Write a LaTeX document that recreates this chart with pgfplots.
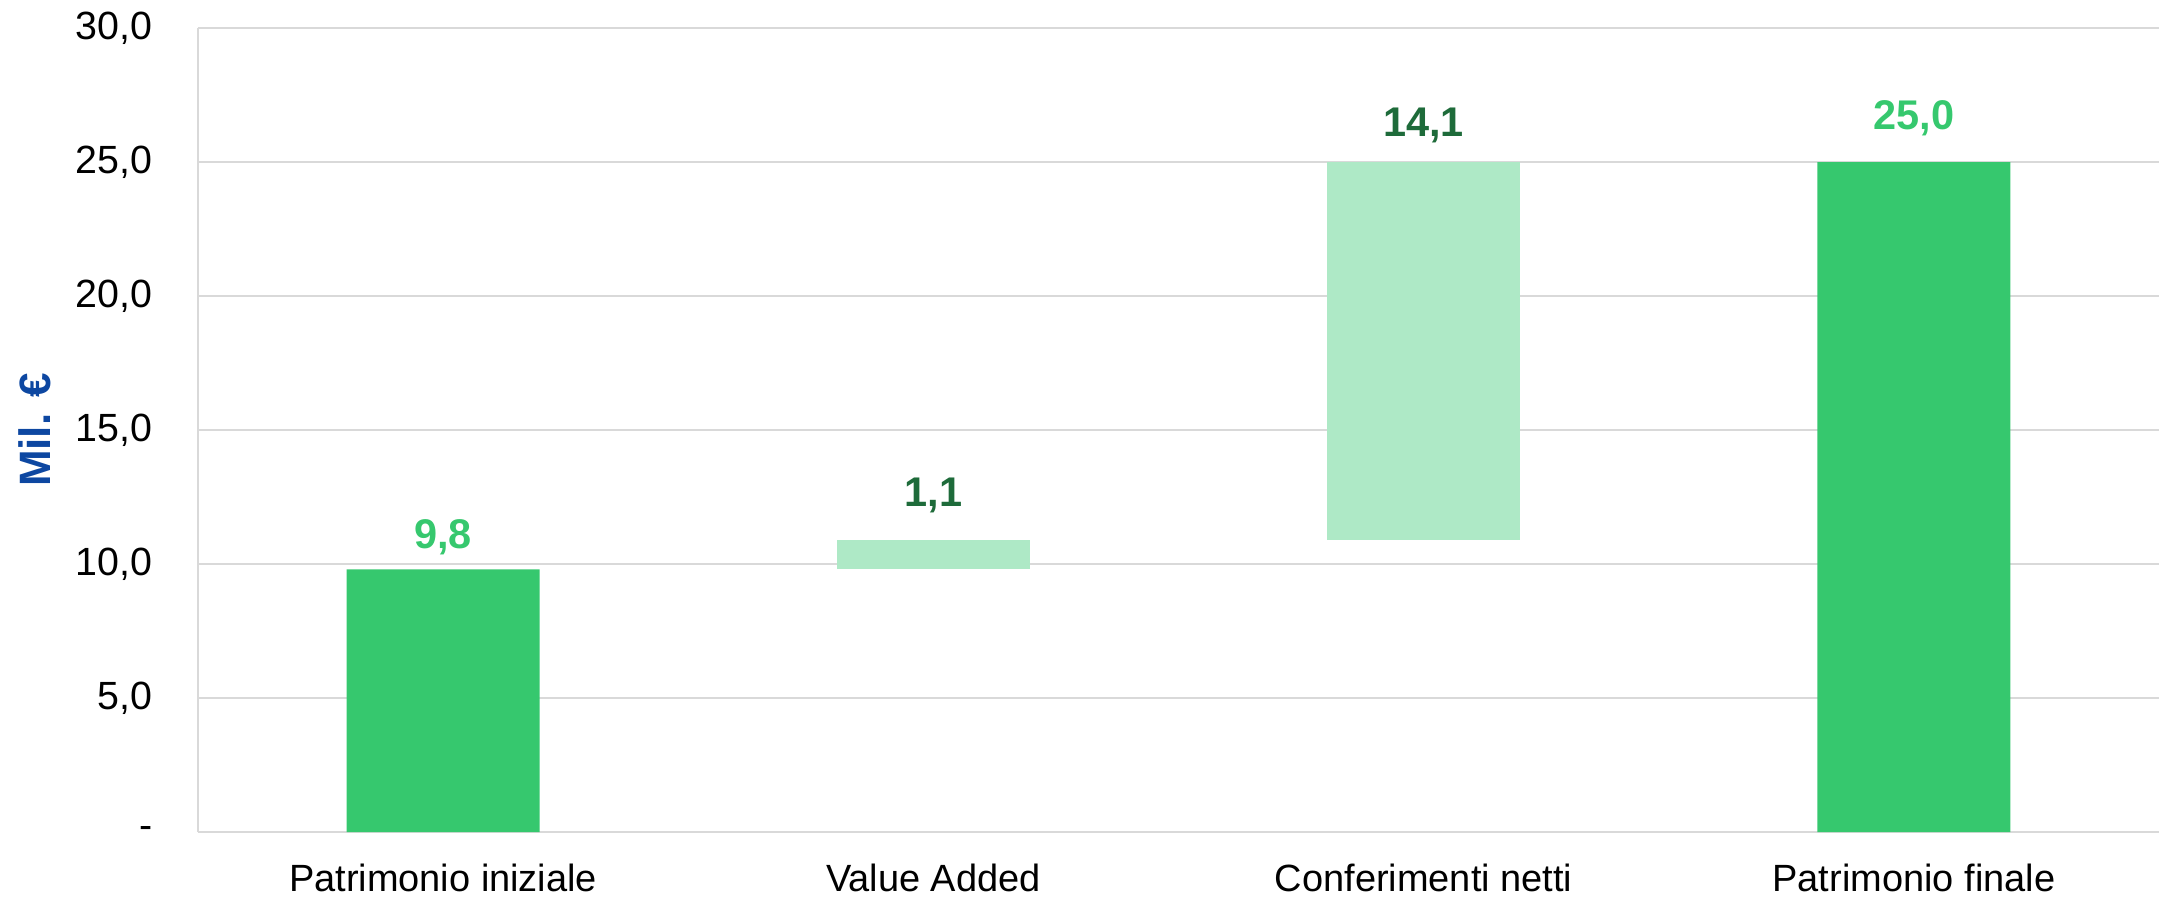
\documentclass[border=0pt]{standalone}
\usepackage{fontspec}
\setmainfont{Liberation Sans}
\usepackage{pgfplots}
\pgfplotsset{compat=1.18}

\definecolor{verde}{HTML}{36C86E}
\definecolor{verdechiaro}{HTML}{AEE9C6}
\definecolor{verdescuro}{HTML}{1E6B3A}
\definecolor{blu}{HTML}{0D47A1}
\definecolor{griglia}{HTML}{D9D9D9}

\begin{document}
\begin{tikzpicture}
\begin{axis}[
    width=19.61cm,
    height=8.04cm,
    scale only axis,
    xmin=-0.5, xmax=3.5,
    ymin=0, ymax=30,
    xtick={0,1,2,3},
    xticklabels={Patrimonio iniziale, Value Added, Conferimenti netti, Patrimonio finale},
    ytick={0,5,10,15,20,25,30},
    yticklabels={{-\hspace{0.25em}},{5,0},{10,0},{15,0},{20,0},{25,0},{30,0}},
    major tick length=0pt,
    axis x line*=bottom,
    axis y line*=left,
    axis line style={draw=griglia, line width=0.75pt},
    ymajorgrids,
    grid style={draw=griglia, line width=0.75pt},
    xticklabel style={font=\fontsize{10.8}{13}\selectfont, yshift=-0.2cm},
    yticklabel style={font=\fontsize{11.2}{13}\selectfont, xshift=-0.33cm},
    ylabel={Mil. €},
    every axis y label/.style={at={(axis description cs:-0.0834,0.5)}, rotate=90, anchor=center,
        font=\fontsize{12.5}{15}\selectfont\bfseries, text=blu},
    every node near coord/.append style={font=\fontsize{11.8}{14}\selectfont\bfseries, anchor=south},
]
% totali (da zero)
\addplot[ybar, bar width=1.93cm, bar shift=0pt, draw=none, fill=verde] coordinates {
    (0,9.8) (3,25.0)
};
% variazioni (barre flottanti: da 9,8 a 10,9 e da 10,9 a 25,0)
\addplot[draw=none, fill=verdechiaro] coordinates {
    (0.803,9.8) (1.197,9.8) (1.197,10.9) (0.803,10.9)
} -- cycle;
\addplot[draw=none, fill=verdechiaro] coordinates {
    (1.803,10.9) (2.197,10.9) (2.197,25.0) (1.803,25.0)
} -- cycle;
% etichette
\addplot[draw=none, nodes near coords, point meta=explicit symbolic,
    every node near coord/.append style={text=verde, yshift=0.7pt}] coordinates {(0,9.8)[{9,8}]};
\addplot[draw=none, nodes near coords, point meta=explicit symbolic,
    every node near coord/.append style={text=verde, yshift=4pt}] coordinates {(3,25.0)[{25,0}]};
\addplot[draw=none, nodes near coords, point meta=explicit symbolic,
    every node near coord/.append style={text=verdescuro, yshift=4pt}] coordinates {(1,10.9)[{1,1}]};
\addplot[draw=none, nodes near coords, point meta=explicit symbolic,
    every node near coord/.append style={text=verdescuro, yshift=2pt}] coordinates {(2,25.0)[{14,1}]};
\end{axis}
\pgfresetboundingbox
\path[use as bounding box] ([xshift=-1.98cm,yshift=-0.65cm]current axis.south west)
    rectangle ([xshift=0.11cm,yshift=0.28cm]current axis.north east);
\end{tikzpicture}
\end{document}
